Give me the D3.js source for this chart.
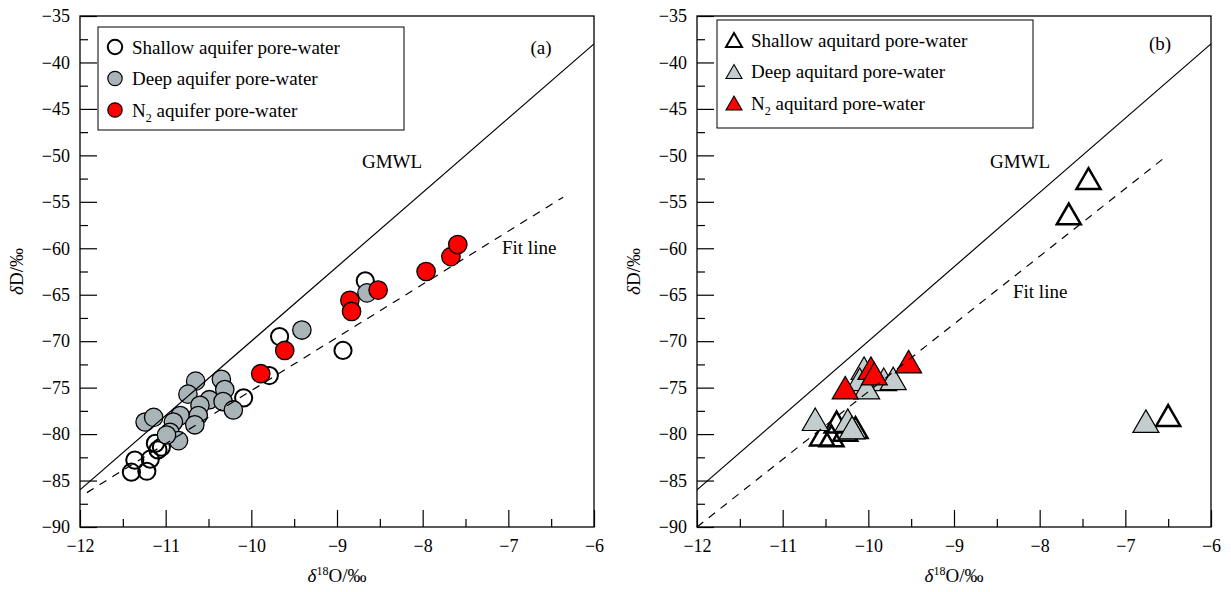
<!DOCTYPE html>
<html>
<head>
<meta charset="utf-8">
<script src="https://cdn.jsdelivr.net/npm/d3@7/dist/d3.min.js"></script>
<style>
  body { margin: 0; background: #fff; }
  text { font-family: "Liberation Serif", "Times New Roman", serif; fill: #000; }
</style>
</head>
<body>
<svg id="chart" width="1231" height="592"></svg>
<script>
// data  [δ18O, δD]
const shallowAquifer = [
  [-8.67, -63.5], [-9.67, -69.5], [-8.93, -71.0], [-9.79, -73.7], [-10.09, -76.1],
  [-11.12, -81.0], [-11.05, -81.4], [-11.09, -81.7], [-11.36, -82.8], [-11.18, -82.7],
  [-11.40, -84.1], [-11.22, -84.0]
];
const deepAquifer = [
  [-8.65, -64.8], [-9.41, -68.8], [-10.65, -74.3], [-10.35, -74.1], [-10.31, -75.2],
  [-10.74, -75.7], [-10.49, -76.3], [-10.60, -76.9], [-10.33, -76.5], [-10.21, -77.4],
  [-11.24, -78.7], [-11.14, -78.2], [-10.83, -78.0], [-10.62, -78.0], [-10.91, -78.7],
  [-10.66, -79.0], [-10.95, -79.8], [-10.85, -80.7], [-10.99, -80.1]
];
const n2Aquifer = [
  [-8.52, -64.5], [-8.85, -65.6], [-8.83, -66.8], [-9.61, -71.0], [-9.89, -73.5],
  [-7.96, -62.5], [-7.67, -60.9], [-7.59, -59.6]
];
const shallowAquitard = [
  [-7.43, -52.5], [-7.66, -56.3], [-6.50, -78.0], [-10.37, -78.7], [-10.27, -79.6],
  [-10.43, -80.2], [-10.15, -79.3], [-10.54, -80.1]
];
const deepAquitard = [
  [-10.05, -72.9], [-10.10, -74.1], [-9.82, -74.1], [-9.71, -74.0], [-10.02, -75.0],
  [-10.62, -78.4], [-10.24, -78.5], [-10.19, -79.3], [-6.76, -78.6]
];
const n2Aquitard = [
  [-9.53, -72.2], [-10.27, -75.0], [-9.97, -72.9], [-9.93, -73.5]
];

// lines
const gmwl = [[-12, -86], [-6, -38]];
const fitA = [[-11.92, -86.3], [-6.36, -54.5]];
const fitB = [[-12, -90], [-6.55, -50.3]];

const xTicks = [-12, -11, -10, -9, -8, -7, -6];
const yTicks = [-90, -85, -80, -75, -70, -65, -60, -55, -50, -45, -40, -35];

const legendA = ["Shallow aquifer pore-water", "Deep aquifer pore-water", "aquifer pore-water"];
const legendB = ["Shallow aquitard pore-water", "Deep aquitard pore-water", "aquitard pore-water"];

// config
const plotTop = 16, plotBottom = 527;
const serif = '"Liberation Serif", "Times New Roman", serif';
const grayCircle = "#a8b4b8";
const grayTri = "#c3cdcd";
const red = "#ff0000";

const svg = d3.select("#chart");

const triPath = (s) => {
  const h = s * Math.sqrt(3) / 2;
  return `M0,${-h / 2}L${s / 2},${h / 2}L${-s / 2},${h / 2}Z`;
};

const drawPanel = (left, right, opts) => {
  const x = d3.scaleLinear().domain([-12, -6]).range([left, right]);
  const y = d3.scaleLinear().domain([-90, -35]).range([plotBottom, plotTop]);
  const g = svg.append("g");

  // minor ticks
  const xMinor = d3.range(-11.5, -6, 1);
  const yMinor = d3.range(-87.5, -35, 5);
  g.append("g").attr("transform", `translate(0,${plotBottom})`)
    .call(d3.axisBottom(x).tickValues(xMinor).tickSize(-8).tickFormat(""))
    .call(a => a.select(".domain").remove());
  g.append("g").attr("transform", `translate(${left},0)`)
    .call(d3.axisLeft(y).tickValues(yMinor).tickSize(-8).tickFormat(""))
    .call(a => a.select(".domain").remove());

  // major ticks
  const fmt = d => d < 0 ? "\u2212" + Math.abs(d) : d;
  g.append("g").attr("transform", `translate(0,${plotBottom})`)
    .attr("font-family", serif).attr("font-size", 18)
    .call(d3.axisBottom(x).tickValues(xTicks).tickSize(-17).tickPadding(12).tickFormat(fmt))
    .call(a => a.select(".domain").remove())
    .call(a => a.attr("font-family", serif).attr("font-size", 18));
  g.append("g").attr("transform", `translate(${left},0)`)
    .call(d3.axisLeft(y).tickValues(yTicks).tickSize(-17).tickPadding(10).tickFormat(fmt))
    .call(a => a.select(".domain").remove())
    .call(a => a.attr("font-family", serif).attr("font-size", 18));
  g.selectAll(".tick text")
    .style("font-family", serif)
    .style("font-size", "18px");
  g.selectAll(".tick line").attr("stroke-width", 1.2);

  // markers, then lines over them
  const markers = g.append("g");
  const lines = g.append("g");
  const line = d3.line().x(d => x(d[0])).y(d => y(d[1]));
  lines.append("path").datum(gmwl).attr("d", line)
    .attr("stroke", "#000").attr("stroke-width", 1.2).attr("fill", "none");
  lines.append("path").datum(opts.fit).attr("d", line)
    .attr("stroke", "#000").attr("stroke-width", 1.2).attr("fill", "none")
    .attr("stroke-dasharray", "8,7");

  opts.series.forEach(s => {
    if (s.shape === "circle") {
      markers.selectAll(null).data(s.data).enter().append("circle")
        .attr("cx", d => x(d[0])).attr("cy", d => y(d[1]))
        .attr("r", s.open ? 8.6 : 9.2)
        .attr("fill", s.fill).attr("stroke", "#000")
        .attr("stroke-width", s.open ? 2 : 1.3);
    } else {
      markers.selectAll(null).data(s.data).enter().append("path")
        .attr("transform", d => `translate(${x(d[0])},${y(d[1])})`)
        .attr("d", triPath(s.open ? 24 : 26))
        .attr("fill", s.fill).attr("stroke", "#000")
        .attr("stroke-width", s.open ? 2.5 : 1.2)
        .attr("stroke-linejoin", "miter");
    }
  });

  // frame
  g.append("rect").attr("x", left).attr("y", plotTop)
    .attr("width", right - left).attr("height", plotBottom - plotTop)
    .attr("fill", "none").attr("stroke", "#000").attr("stroke-width", 1.3);

  // legend
  const lg = g.append("g");
  lg.append("rect").attr("x", opts.legend.x).attr("y", opts.legend.y)
    .attr("width", opts.legend.w).attr("height", opts.legend.h)
    .attr("fill", "#fff").attr("stroke", "#000").attr("stroke-width", 1);
  opts.series.forEach((s, i) => {
    const cy = opts.legend.y + 20 + i * 31.5;
    const mx = opts.legend.x + 17;
    if (s.shape === "circle") {
      lg.append("circle").attr("cx", mx).attr("cy", cy).attr("r", 7.2)
        .attr("fill", s.fill).attr("stroke", "#000").attr("stroke-width", s.open ? 2 : 1.2);
    } else {
      lg.append("path").attr("transform", `translate(${mx},${cy})`)
        .attr("d", triPath(16)).attr("fill", s.fill).attr("stroke", "#000")
        .attr("stroke-width", s.open ? 2 : 1.1);
    }
    const t = lg.append("text").attr("x", mx + 17).attr("y", cy + 6.5)
      .style("font-size", "19px");
    if (i === 2) {
      t.append("tspan").text("N");
      t.append("tspan").text("2").attr("dy", 5).style("font-size", "12px");
      t.append("tspan").text(" " + opts.labels[i]).attr("dy", -5);
    } else {
      t.text(opts.labels[i]);
    }
  });

  // annotations
  g.append("text").attr("x", opts.tag.x).attr("y", opts.tag.y)
    .attr("text-anchor", "middle").style("font-size", "19px").text(opts.tag.t);
  g.append("text").attr("x", opts.gmwlLabel[0]).attr("y", opts.gmwlLabel[1])
    .style("font-size", "19px").text("GMWL");
  g.append("text").attr("x", opts.fitLabel[0]).attr("y", opts.fitLabel[1])
    .style("font-size", "19px").text("Fit line");

  // axis titles
  const xt = g.append("text").attr("x", (left + right) / 2).attr("y", 582)
    .attr("text-anchor", "middle").style("font-size", "19px");
  xt.append("tspan").text("\u03B4").style("font-style", "italic");
  xt.append("tspan").text("18").attr("dy", -7).style("font-size", "12px");
  xt.append("tspan").text("O/\u2030").attr("dy", 7);

  const yt = g.append("text")
    .attr("transform", `translate(${left - 57},${(plotTop + plotBottom) / 2}) rotate(-90)`)
    .attr("text-anchor", "middle").style("font-size", "19px");
  yt.append("tspan").text("\u03B4").style("font-style", "italic");
  yt.append("tspan").text("D/\u2030");
};

drawPanel(80, 594, {
  fit: fitA,
  series: [
    {data: shallowAquifer, shape: "circle", fill: "none", open: true},
    {data: deepAquifer, shape: "circle", fill: grayCircle},
    {data: n2Aquifer, shape: "circle", fill: red}
  ],
  labels: legendA,
  legend: {x: 98, y: 27, w: 306, h: 103},
  tag: {x: 541, y: 54, t: "(a)"},
  gmwlLabel: [362, 168],
  fitLabel: [502, 254]
});

drawPanel(697, 1211, {
  fit: fitB,
  series: [
    {data: shallowAquitard, shape: "tri", fill: "none", open: true},
    {data: deepAquitard, shape: "tri", fill: grayTri},
    {data: n2Aquitard, shape: "tri", fill: red}
  ],
  labels: legendB,
  legend: {x: 717, y: 20, w: 316, h: 108},
  tag: {x: 1160, y: 50, t: "(b)"},
  gmwlLabel: [990, 168],
  fitLabel: [1013, 298]
});
</script>
</body>
</html>
